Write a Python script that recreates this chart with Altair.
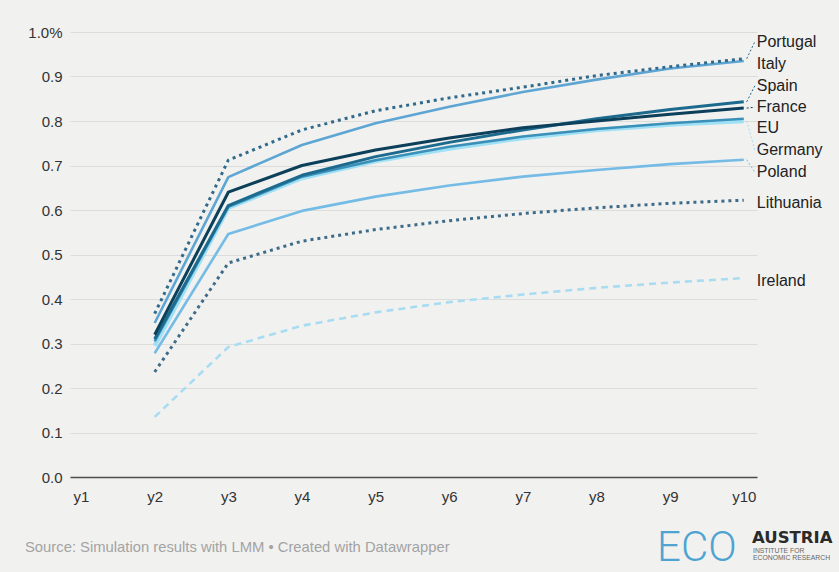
import altair as alt
import pandas as pd

# Simulated shares by year (y1 has no value)
years = list(range(1, 11))
countries = ["Ireland", "Lithuania", "Poland", "Germany", "EU", "Italy", "Spain", "France", "Portugal"]

portugal = [None, 0.367, 0.712, 0.780, 0.823, 0.852, 0.876, 0.902, 0.922, 0.940]
italy = [None, 0.346, 0.674, 0.746, 0.795, 0.832, 0.865, 0.893, 0.918, 0.935]
spain = [None, 0.310, 0.610, 0.678, 0.720, 0.752, 0.780, 0.805, 0.826, 0.843]
france = [None, 0.320, 0.640, 0.700, 0.735, 0.762, 0.785, 0.800, 0.815, 0.829]
eu = [None, 0.305, 0.607, 0.675, 0.712, 0.742, 0.765, 0.782, 0.795, 0.805]
germany = [None, 0.295, 0.605, 0.672, 0.710, 0.738, 0.762, 0.780, 0.792, 0.800]
poland = [None, 0.278, 0.546, 0.598, 0.630, 0.655, 0.675, 0.690, 0.703, 0.713]
lithuania = [None, 0.236, 0.481, 0.530, 0.556, 0.576, 0.592, 0.605, 0.615, 0.622]
ireland = [None, 0.135, 0.292, 0.340, 0.370, 0.393, 0.410, 0.425, 0.437, 0.447]

series = {
    "Portugal": portugal, "Italy": italy, "Spain": spain, "France": france,
    "EU": eu, "Germany": germany, "Poland": poland,
    "Lithuania": lithuania, "Ireland": ireland,
}

# End-label anchors (value units) after de-overlapping
label_pos = {
    "Portugal": 0.978, "Italy": 0.928, "Spain": 0.879, "France": 0.831,
    "EU": 0.784, "Germany": 0.735, "Poland": 0.685, "Lithuania": 0.616,
    "Ireland": 0.440,
}
with_connector = ["Portugal", "Spain", "France", "Germany", "Poland"]

styles = {
    "Portugal": dict(color="#31698a", strokeWidth=3, strokeDash=[3, 4]),
    "Italy": dict(color="#5da5d3", strokeWidth=2.6),
    "Spain": dict(color="#1c6a8e", strokeWidth=3),
    "France": dict(color="#0b3f5a", strokeWidth=3),
    "EU": dict(color="#3a90b8", strokeWidth=2.6),
    "Germany": dict(color="#a0e0f5", strokeWidth=4.5),
    "Poland": dict(color="#74bce5", strokeWidth=2.6),
    "Lithuania": dict(color="#3e6b88", strokeWidth=3, strokeDash=[3, 4]),
    "Ireland": dict(color="#a8dcf2", strokeWidth=2.6, strokeDash=[7, 5]),
}

W, H = 687, 445
xscale = alt.Scale(domain=[0.85, 10.18], nice=False, zero=False)
yscale = alt.Scale(domain=[0, 1], nice=False)

x_axis = alt.Axis(
    values=years, labelExpr="'y' + datum.value", grid=False, ticks=False,
    domain=True, domainColor="#4d4d4d", domainWidth=1.5, labelPadding=12,
    labelFontSize=15, labelColor="#333333", title=None, labelFont="Liberation Sans",
)
y_axis = alt.Axis(
    values=[round(v * 0.1, 1) for v in range(11)],
    labelExpr="datum.value == 1 ? '1.0%' : format(datum.value, '.1f')",
    grid=True, gridColor="#dcdcdb", gridWidth=1, domain=False, ticks=False,
    labelPadding=8, labelFontSize=15, labelColor="#333333", title=None,
    labelFont="Liberation Sans",
)

X = lambda f: alt.X(f, type="quantitative", scale=xscale, axis=x_axis)
Y = lambda f: alt.Y(f, type="quantitative", scale=yscale, axis=y_axis)

layers = []
for c in countries:
    df = pd.DataFrame({"year": years, "value": series[c]}).dropna()
    st = styles[c]
    layers.append(
        alt.Chart(df).mark_line(strokeCap="butt", strokeJoin="round", **st)
        .encode(x=X("year"), y=Y("value"))
    )

last = years[-1]
conn = pd.DataFrame({
    "country": with_connector,
    "x0": [last + 0.04] * len(with_connector),
    "x1": [last + 0.15] * len(with_connector),
    "end": [series[c][-1] for c in with_connector],
    "lab": [label_pos[c] for c in with_connector],
})
color_scale = alt.Scale(domain=list(styles), range=[styles[c]["color"] for c in styles])
layers.append(
    alt.Chart(conn).mark_rule(strokeWidth=1, strokeDash=[2, 2])
    .encode(x=X("x0"), x2="x1", y=Y("end"), y2="lab",
            color=alt.Color("country:N", scale=color_scale, legend=None))
)

labels = pd.DataFrame({
    "country": list(label_pos),
    "year": [last] * len(label_pos),
    "lab": list(label_pos.values()),
})
layers.append(
    alt.Chart(labels).mark_text(align="left", baseline="middle", dx=13, fontSize=16,
                                font="Liberation Sans", color="#222222")
    .encode(x=X("year"), y=Y("lab"), text="country:N")
)

# Footer: source line and logo
footer = pd.DataFrame({"t": ["Source: Simulation results with LMM • Created with Datawrapper"]})
layers.append(
    alt.Chart(footer).mark_text(align="left", baseline="middle", fontSize=14.8,
                                font="Liberation Sans", color="#a3a3a3")
    .encode(x=alt.value(-45), y=alt.value(516), text="t:N")
)
logo = pd.DataFrame({"t": ["ECO"]})
layers.append(
    alt.Chart(logo).mark_text(align="left", baseline="alphabetic", fontSize=42,
                              font="Roboto", fontWeight=300, color="#4fa3d1")
    .encode(x=alt.value(587), y=alt.value(529), text="t:N")
)
layers.append(
    alt.Chart(pd.DataFrame({"t": ["AUSTRIA"]})).mark_text(
        align="left", baseline="alphabetic", fontSize=16.5, font="DejaVu Sans",
        fontWeight="bold", color="#2a2a2a")
    .encode(x=alt.value(682), y=alt.value(511), text="t:N")
)
layers.append(
    alt.Chart(pd.DataFrame({"t": ["INSTITUTE FOR", "ECONOMIC RESEARCH"], "yy": [521, 528]}))
    .mark_text(align="left", baseline="alphabetic", fontSize=6.8, font="Liberation Sans",
               color="#666666")
    .encode(x=alt.value(683), y=alt.Y("yy:Q", scale=None), text="t:N")
)

chart = alt.layer(*layers).properties(
    width=W, height=H,
    padding={"left": 70, "top": 32, "right": 82, "bottom": 95},
    autosize=alt.AutoSizeParams(type="none"),
    background="#f1f1f0",
).configure_view(stroke=None)

chart.save("out.html", embed_options={"renderer": "svg", "actions": False})
